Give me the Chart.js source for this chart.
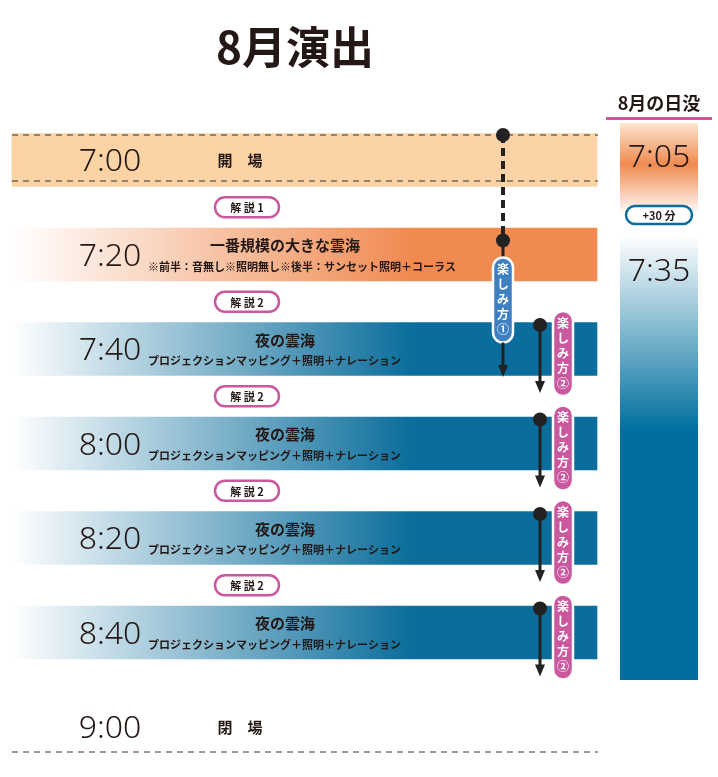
<!DOCTYPE html>
<html><head><meta charset="utf-8">
<script src="https://cdn.jsdelivr.net/npm/chart.js@4"></script>
<style>body{margin:0;background:#fff}#wrap{width:718px;height:777px}</style>
</head><body><div id="wrap"><canvas id="c" width="718" height="777"></canvas></div>
<script>
var times = ['7:00', '7:20', '7:40', '8:00', '8:20', '8:40', '9:00'];
var titles = ['開　場', '一番規模の大きな雲海', '夜の雲海', '夜の雲海', '夜の雲海', '夜の雲海', '閉　場'];
var subs = ['', '※前半：音無し※照明無し※後半：サンセット照明＋コーラス',
    'プロジェクションマッピング＋照明＋ナレーション', 'プロジェクションマッピング＋照明＋ナレーション',
    'プロジェクションマッピング＋照明＋ナレーション', 'プロジェクションマッピング＋照明＋ナレーション', ''];
var guides = ['解 説 1', '解 説 2', '解 説 2', '解 説 2', '解 説 2'];
var spans = [[0, 100], [0, 100], [0, 100], [0, 100], [0, 100], [0, 100], null];
var sunset = '7:05';
var sunsetLater = '7:35';
var PINK = '#c9589e', BLUE = '#0a6d9b', ORANGE = '#f08a50';

function fillFor(ctx) {
    var chart = ctx.chart, a = chart.chartArea;
    if (!a) return BLUE;
    var i = ctx.dataIndex;
    if (i === 0) return '#fbd3a5';
    var g = chart.ctx.createLinearGradient(a.left, 0, a.left + 400, 0);
    g.addColorStop(0, '#ffffff');
    g.addColorStop(1, i === 1 ? ORANGE : BLUE);
    return g;
}

function pill(c, x, y, w, h, fill, stroke) {
    c.beginPath();
    c.roundRect(x - w / 2, y - h / 2, w, h, Math.min(w, h) / 2);
    c.fillStyle = fill; c.fill();
    if (stroke) { c.lineWidth = 2.5; c.strokeStyle = stroke; c.stroke(); }
}

function vpill(c, x, y0, txt, fill) {
    var h = txt.length * 15 + 10;
    pill(c, x, y0 + h / 2, 20, h, fill, '#fff');
    c.fillStyle = '#fff'; c.font = 'bold 12px "Noto Sans CJK JP"';
    c.textAlign = 'center'; c.textBaseline = 'middle';
    for (var k = 0; k < txt.length; k++) c.fillText(txt[k], x, y0 + 12 + k * 15);
    return y0 + h;
}

function arrow(c, x, y0, y1) {
    c.save();
    c.strokeStyle = '#222'; c.fillStyle = '#222'; c.lineWidth = 3;
    c.beginPath(); c.moveTo(x, y0); c.lineTo(x, y1 - 10); c.stroke();
    c.beginPath(); c.moveTo(x - 5, y1 - 12); c.lineTo(x + 5, y1 - 12); c.lineTo(x, y1); c.closePath(); c.fill();
    c.restore();
}

function dot(c, x, y) {
    c.beginPath(); c.arc(x, y, 7, 0, Math.PI * 2); c.fillStyle = '#222'; c.fill();
}

var decor = {
    id: 'decor',
    afterDatasetsDraw: function (chart) {
        var c = chart.ctx, y = chart.scales.y;
        c.save();
        c.textAlign = 'center'; c.textBaseline = 'middle';
        c.fillStyle = '#231815'; c.font = 'bold 44px "Noto Sans CJK JP"';
        c.fillText('8月演出', 295, 47);
        c.strokeStyle = '#333'; c.lineWidth = 1; c.setLineDash([6, 5]);
        [y.getPixelForValue(0) - 25, y.getPixelForValue(0) + 21, 752].forEach(function (p) {
            c.beginPath(); c.moveTo(12, p); c.lineTo(598, p); c.stroke();
        });
        c.setLineDash([]);
        times.forEach(function (t, i) {
            var p = y.getPixelForValue(i);
            c.fillStyle = '#231815'; c.font = '300 32px "Noto Sans", sans-serif';
            c.textAlign = 'center';
            c.fillText(t, 110, p + 2);
            c.font = 'bold 15px "Noto Sans CJK JP"';
            if (subs[i]) {
                c.fillText(titles[i], 285, p - 9);
                c.font = 'bold 11px "Noto Sans CJK JP"';
                c.textAlign = 'left';
                c.fillText(subs[i], 148, p + 12);
                c.textAlign = 'center';
            } else {
                c.fillText(titles[i], 240, p);
            }
        });
        guides.forEach(function (g, i) {
            var p = (y.getPixelForValue(i) + y.getPixelForValue(i + 1)) / 2;
            pill(c, 247, p, 64, 20, '#fff', PINK);
            c.fillStyle = '#231815'; c.font = 'bold 11px "Noto Sans CJK JP"';
            c.fillText(g, 247, p + 1);
        });
        var p0 = y.getPixelForValue(0), p1 = y.getPixelForValue(1);
        dot(c, 503, p0 - 25);
        c.save(); c.strokeStyle = '#222'; c.lineWidth = 4; c.setLineDash([8, 5]);
        c.beginPath(); c.moveTo(503, p0 - 25); c.lineTo(503, p1 - 14); c.stroke(); c.restore();
        dot(c, 503, p1 - 14);
        c.strokeStyle = '#222'; c.lineWidth = 3;
        c.beginPath(); c.moveTo(503, p1 - 14); c.lineTo(503, p1 + 5); c.stroke();
        var e = vpill(c, 503, p1 + 3, '楽しみ方①', '#3d7fc1');
        arrow(c, 503, e, y.getPixelForValue(2) + 28);
        for (var i = 2; i <= 5; i++) {
            var p = y.getPixelForValue(i);
            dot(c, 540, p - 24);
            arrow(c, 540, p - 24, p + 44);
            vpill(c, 563, p - 38, '楽しみ方②', PINK);
        }
        var sx = 620, sw = 78;
        c.fillStyle = '#231815'; c.font = 'bold 18px "Noto Sans CJK JP"';
        c.fillText('8月の日没', sx + sw / 2, 103);
        c.fillStyle = PINK; c.fillRect(sx - 14, 117, sw + 28, 3);
        var g1 = c.createLinearGradient(0, 123, 0, 215);
        g1.addColorStop(0, '#fde6cf'); g1.addColorStop(0.45, ORANGE); g1.addColorStop(1, '#ffffff');
        c.fillStyle = g1; c.fillRect(sx, 123, sw, 92);
        var g2 = c.createLinearGradient(0, 235, 0, 430);
        g2.addColorStop(0, '#ffffff'); g2.addColorStop(1, '#006f9e');
        c.fillStyle = g2; c.fillRect(sx, 235, sw, 445);
        c.fillStyle = '#231815'; c.font = '300 32px "Noto Sans", sans-serif';
        c.fillText(sunset, sx + sw / 2, 158);
        c.fillText(sunsetLater, sx + sw / 2, 272);
        pill(c, sx + sw / 2, 215, 66, 18, '#fff', BLUE);
        c.fillStyle = '#231815'; c.font = 'bold 11px "Noto Sans CJK JP"';
        c.fillText('+30 分', sx + sw / 2, 216);
        c.restore();
    }
};

new Chart(document.getElementById('c').getContext('2d'), {
    type: 'bar',
    data: {
        labels: times,
        datasets: [{
            data: spans,
            backgroundColor: fillFor,
            borderWidth: 0,
            borderSkipped: false,
            clip: false,
            barThickness: function (ctx) { return ctx.dataIndex === 0 ? 13 : 53; }
        }]
    },
    options: {
        indexAxis: 'y',
        responsive: false,
        animation: false,
        layout: { padding: { left: 12, right: 121, top: 160, bottom: 50 } },
        plugins: { legend: { display: false }, tooltip: { enabled: false } },
        scales: {
            x: { display: false, min: 0, max: 100 },
            y: { display: false, offset: false }
        }
    },
    plugins: [decor]
});
</script></body></html>
